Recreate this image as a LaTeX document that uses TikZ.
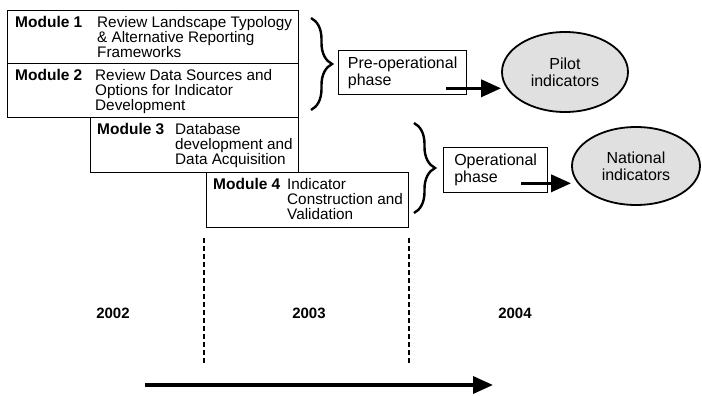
\documentclass[tikz,border=0pt]{standalone}
\usepackage{fontspec}
\setmainfont{Liberation Sans}
\usetikzlibrary{shapes,arrows.meta,positioning,decorations.pathreplacing,calc}

\tikzset{
modbox/.style={draw,line width=1.3pt,anchor=north west,inner sep=0pt},
modlbl/.style={font=\fontsize{15.5}{15}\selectfont\bfseries,anchor=north west,inner sep=0pt},
moddesc/.style={font=\fontsize{15.3}{15}\selectfont,align=left,anchor=north west,inner sep=0pt},
phasebox/.style={draw,line width=1.3pt,anchor=north west,inner sep=0pt,align=left,font=\fontsize{16}{17}\selectfont},
outcome/.style={ellipse,draw,line width=1.8pt,fill=black!12,inner sep=0pt,align=center,font=\fontsize{16}{17}\selectfont},
bigbrace/.style={decorate,decoration={brace,amplitude=21pt},line width=2.4pt},
fatarrow/.style={line width=3.5pt,-{Triangle[length=20pt,width=17pt]}},
yrline/.style={dashed,dash pattern=on 5pt off 3pt,line width=1.2pt},
yr/.style={font=\fontsize{15}{16}\selectfont\bfseries}
}

\begin{document}
\begin{tikzpicture}[x=1pt,y=-1pt]
\useasboundingbox (0,0) rectangle (702,396);

\node[modbox,minimum width=291pt,minimum height=53pt] (m1) at (7,10) {};
\node[modlbl,below right=6pt and 8pt of m1.north west] (m1l) {Module 1};
\node[moddesc,below right=6pt and 90pt of m1.north west] (m1d) {Review Landscape Typology\\\& Alternative Reporting\\Frameworks};

\node[modbox,minimum width=291pt,minimum height=54pt] (m2) at (7,63) {};
\node[modlbl,below right=6pt and 8pt of m2.north west] (m2l) {Module 2};
\node[moddesc,below right=6pt and 88pt of m2.north west] (m2d) {Review Data Sources and\\Options for Indicator\\Development};

\node[modbox,minimum width=208pt,minimum height=55pt] (m3) at (90,117) {};
\node[modlbl,below right=6pt and 7pt of m3.north west] (m3l) {Module 3};
\node[moddesc,below right=6pt and 85pt of m3.north west] (m3d) {Database\\development and\\Data Acquisition};

\node[modbox,minimum width=202pt,minimum height=55pt] (m4) at (206,172) {};
\node[modlbl,below right=6pt and 7pt of m4.north west] (m4l) {Module 4};
\node[moddesc,below right=6pt and 81pt of m4.north west] (m4d) {Indicator\\Construction and\\Validation};

\node[phasebox,minimum width=128pt,minimum height=44pt] (pre) at (338,50) {Pre-operational\\phase\hspace*{8pt}};
\node[phasebox,minimum width=104pt,minimum height=45pt] (oper) at (443,147) {Operational\\phase};

\node[outcome,minimum width=126pt,minimum height=80pt] (pilot) at (565,72) {Pilot\\indicators};
\node[outcome,minimum width=128pt,minimum height=78pt] (natl) at (636,166) {National\\indicators};

\coordinate (b1top) at (311,18);
\coordinate (b1bot) at (311,110);
\coordinate (b2top) at (414,123);
\coordinate (b2bot) at (414,213);
\draw[bigbrace] (b1top) -- (b1bot);
\draw[bigbrace] (b2top) -- (b2bot);

\coordinate (pa) at ($(pre.south east)+(-21,-7)$);
\coordinate (oa) at ($(oper.south east)+(-27,-10)$);
\draw[fatarrow] (pa) -- (pa -| pilot.west);
\draw[fatarrow] (oa) -- (oa -| natl.west);

\draw[yrline] (204,238) -- (204,365);
\draw[yrline] (409,238) -- (409,365);

\node[yr] (y2002) at (113,313) {2002};
\node[yr] (y2003) at (309,313) {2003};
\node[yr] (y2004) at (515,313) {2004};

\coordinate (tstart) at (145,385);
\coordinate (tend) at (493,385);
\draw[fatarrow] (tstart) -- (tend);
\end{tikzpicture}
\end{document}
